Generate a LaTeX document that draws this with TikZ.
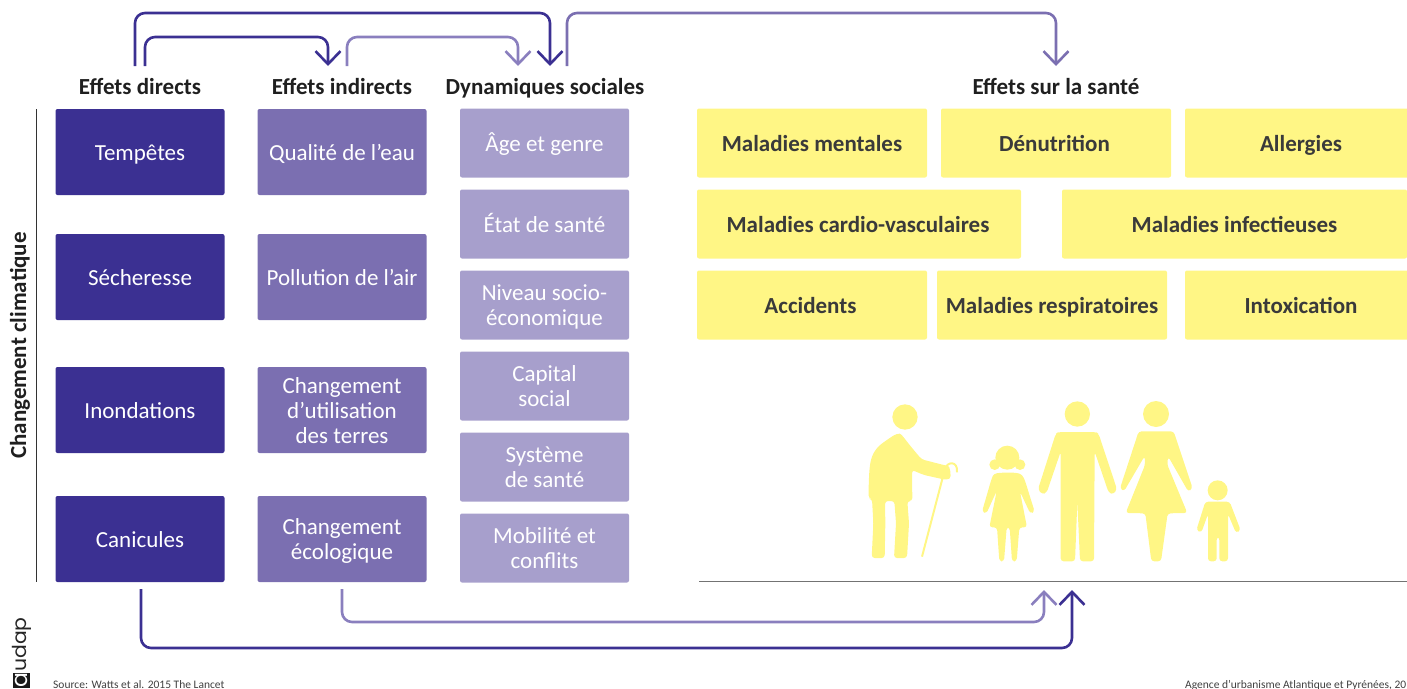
\documentclass[tikz,border=0pt]{standalone}
\usepackage{fontspec}
\setmainfont{Carlito}
\newfontfamily\logofont{Poppins}
\usetikzlibrary{arrows.meta}
\newcommand{\tst}{\rule[-4.5pt]{0pt}{25pt}}
\definecolor{cdark}{HTML}{3B3092}
\definecolor{cmid}{HTML}{7B6FB1}
\definecolor{clight}{HTML}{A79FCC}
\definecolor{carrow}{HTML}{8A7FBE}
\definecolor{cyel}{HTML}{FFF685}
\definecolor{ctxt}{HTML}{3A3A3A}
\tikzset{
  box/.style={rounded corners=2pt,inner sep=0pt,align=center,text=white,font=\fontsize{23}{25}\selectfont},
  tall/.style={box,minimum width=169pt,minimum height=86pt},
  direct/.style={tall,fill=cdark},
  indirect/.style={tall,fill=cmid},
  social/.style={box,fill=clight,minimum width=169pt,minimum height=69pt},
  health/.style={rounded corners=2pt,inner sep=0pt,fill=cyel,minimum height=69pt,text=ctxt,font=\fontsize{23}{26}\selectfont\bfseries,execute at begin node=\tst},
  head/.style={inner sep=0pt,text=black!88,font=\fontsize{23}{25}\selectfont\bfseries,execute at begin node=\tst},
  link/.style={line width=2.6pt,rounded corners=10pt,-{Straight Barb[length=13pt,width=25pt,line width=2.6pt]}},
  note/.style={inner sep=0pt,text=black!75,font=\fontsize{11.5}{13}\selectfont},
  person/.style={fill=cyel,rounded corners=3pt}
}
\begin{document}
\begin{tikzpicture}[x=1pt,y=-1pt]
\useasboundingbox (0,0) rectangle (1407,688);
% headings
\node[head] (hd) at (140,86) {Effets directs};
\node[head] (hi) at (342,86) {Effets indirects};
\node[head] (hs) at (545,86) {Dynamiques sociales};
\node[head] (hh) at (1056,86) {Effets sur la santé};
% side
\node[head,rotate=90] (cc) at (18,345.5) {Changement climatique};
\coordinate (vt) at (36.5,109); \coordinate (vb) at (36.5,582);
\draw[line width=1pt,black!80] (vt) -- (vb);
% col 1
\node[direct] (d1) at (140,152) {\tst Tempêtes};
\node[direct] (d2) at (140,277) {\tst Sécheresse};
\node[direct] (d3) at (140,410) {\tst Inondations};
\node[direct] (d4) at (140,539) {\tst Canicules};
% col 2
\node[indirect] (i1) at (342,152) {\tst Qualité de l’eau};
\node[indirect] (i2) at (342,277) {\tst Pollution de l’air};
\node[indirect] (i3) at (342,410) {\tst Changement\\\tst d’utilisation\\\tst des terres};
\node[indirect] (i4) at (342,539) {\tst Changement\\\tst écologique};
% col 3
\node[social] (s1) at (544.5,143) {\tst Âge et genre};
\node[social] (s2) at (544.5,224) {\tst État de santé};
\node[social] (s3) at (544.5,305) {\tst Niveau socio-\\\tst économique};
\node[social] (s4) at (544.5,386) {\tst Capital\\\tst social};
\node[social] (s5) at (544.5,467) {\tst Système\\\tst de santé};
\node[social] (s6) at (544.5,548) {\tst Mobilité et\\\tst conflits};
% health
\node[health,minimum width=230pt] (m1) at (812,143) {Maladies mentales};
\node[health,minimum width=230pt] (m2) at (1056,143) {\hspace*{-3pt}Dénutrition};
\node[health,minimum width=232pt] (m3) at (1301,143) {Allergies};
\node[health,minimum width=324pt] (m4) at (859,224) {\hspace*{-2pt}Maladies cardio-vasculaires};
\node[health,minimum width=345pt] (m5) at (1234.5,224) {Maladies infectieuses};
\node[health,minimum width=230pt] (m6) at (812,305) {\hspace*{-3pt}Accidents};
\node[health,minimum width=230pt] (m7) at (1052,305) {Maladies respiratoires};
\node[health,minimum width=232pt] (m8) at (1301,305) {Intoxication};
% connectors
\coordinate (a1s) at (135,66); \coordinate (a1u) at (135,13); \coordinate (a1v) at (550,13); \coordinate (a1e) at (550,66);
\coordinate (a2s) at (145,66); \coordinate (a2u) at (145,37); \coordinate (a2v) at (328,37); \coordinate (a2e) at (328,66);
\coordinate (a3s) at (347,66); \coordinate (a3u) at (347,37); \coordinate (a3v) at (518,37); \coordinate (a3e) at (518,66);
\coordinate (a4s) at (567,66); \coordinate (a4u) at (567,13); \coordinate (a4v) at (1056,13); \coordinate (a4e) at (1056,66);
\coordinate (a5s) at (141,589); \coordinate (a5u) at (141,648); \coordinate (a5v) at (1072,648); \coordinate (a5e) at (1072,590);
\coordinate (a6s) at (342,589); \coordinate (a6u) at (342,622); \coordinate (a6v) at (1044,622); \coordinate (a6e) at (1044,590);
\draw[link,draw=cdark] (a1s) -- (a1u) -- (a1v) -- (a1e);
\draw[link,draw=cdark] (a2s) -- (a2u) -- (a2v) -- (a2e);
\draw[link,draw=carrow] (a3s) -- (a3u) -- (a3v) -- (a3e);
\draw[link,draw=cmid] (a4s) -- (a4u) -- (a4v) -- (a4e);
\draw[link,draw=carrow] (a6s) -- (a6u) -- (a6v) -- (a6e);
\draw[link,draw=cdark] (a5s) -- (a5u) -- (a5v) -- (a5e);
% ground
\coordinate (gl) at (699,581.5); \coordinate (gr) at (1407,581.5);
\draw[line width=1.4pt,black!55] (gl) -- (gr);
% people
\begin{scope}[shift={(850,390)},x=0.33333pt,y=-0.33333pt]
 % old man
 \fill[cyel] (165,81) circle (38);
 \fill[person] (56,326) -- (56,290) .. controls (58,230) and (60,205) .. (80,175) .. controls (95,160) and (125,140) .. (140,131)
   .. controls (155,131) and (165,150) .. (215,208) -- (285,226) .. controls (300,228) and (306,262) .. (290,270)
   -- (222,255) -- (186,240) -- (187,333) -- (172,333) -- (177,400) -- (171,504) -- (132,504) -- (138,400) -- (133,333)
   -- (105,333) -- (106,400) -- (104,504) -- (65,504) -- (70,400) -- (66,327) -- cycle;
 \draw[cyel,line width=2pt] (216,500) -- (284,240) .. controls (290,212) and (325,212) .. (321,247);
 % girl
 \fill[cyel] (472,203) circle (36);
 \fill[cyel] (434,224) circle (16);
 \fill[cyel] (510,224) circle (16);
 \fill[person] (425,265) .. controls (432,250) and (445,248) .. (472,248) .. controls (505,248) and (515,250) .. (525,272)
   -- (554,365) -- (541,371) -- (510,305) -- (531,412) -- (508,412) -- (500,514) -- (486,514) -- (479,412) -- (470,412)
   -- (462,514) -- (448,514) -- (441,412) -- (418,412) -- (440,303) -- (409,371) -- (396,365) -- cycle;
 % man
 \fill[cyel] (682,72) circle (38);
 \fill[person] (617,132) -- (625,126) -- (738,126) -- (746,132) -- (801,298) -- (790,313) -- (776,308) -- (734,185) -- (732,514)
   -- (690,514) -- (682,335) -- (675,514) -- (632,514) -- (632,185) -- (590,308) -- (576,313) -- (564,298) -- cycle;
 % woman
 \fill[cyel] (918,72) circle (39);
 \fill[person] (866,124) -- (971,124) -- (1028,295) -- (1015,305) -- (955,200) -- (951,222) -- (1012,369) -- (953,370) -- (933,514)
   -- (904,514) -- (886,370) -- (827,369) -- (885,225) -- (884,198) -- (822,304) -- (810,295) -- cycle;
 % boy
 \fill[cyel] (1103,301) circle (30);
 \fill[person] (1066,335) -- (1139,335) -- (1172,421) -- (1158,429) -- (1134,372) -- (1134,514) -- (1108,514) -- (1108,441)
   -- (1100,441) -- (1100,514) -- (1074,514) -- (1074,372) -- (1054,428) -- (1039,421) -- cycle;
\end{scope}
% logo
\coordinate (lb1) at (13,673); \coordinate (lb2) at (30,688);
\fill[black!90] (lb1) rectangle (lb2);
\node[rotate=90,inner sep=0pt,text=white,font=\logofont\fontsize{22}{22}\selectfont] (la) at (21.5,680.5) {a};
\node[rotate=90,inner sep=0pt,anchor=west,text=black!85,font=\logofont\fontsize{24}{24}\selectfont] (lu) at (22,672) {\scalebox{0.85}[0.8]{udap}};
% notes
\node[note,anchor=base west] (src) at (53,688) {Source: Watts et al. 2015 The Lancet};
\node[note,anchor=base west] (age) at (1185,688) {Agence d’urbanisme Atlantique et Pyrénées, 20};
\end{tikzpicture}
\end{document}
